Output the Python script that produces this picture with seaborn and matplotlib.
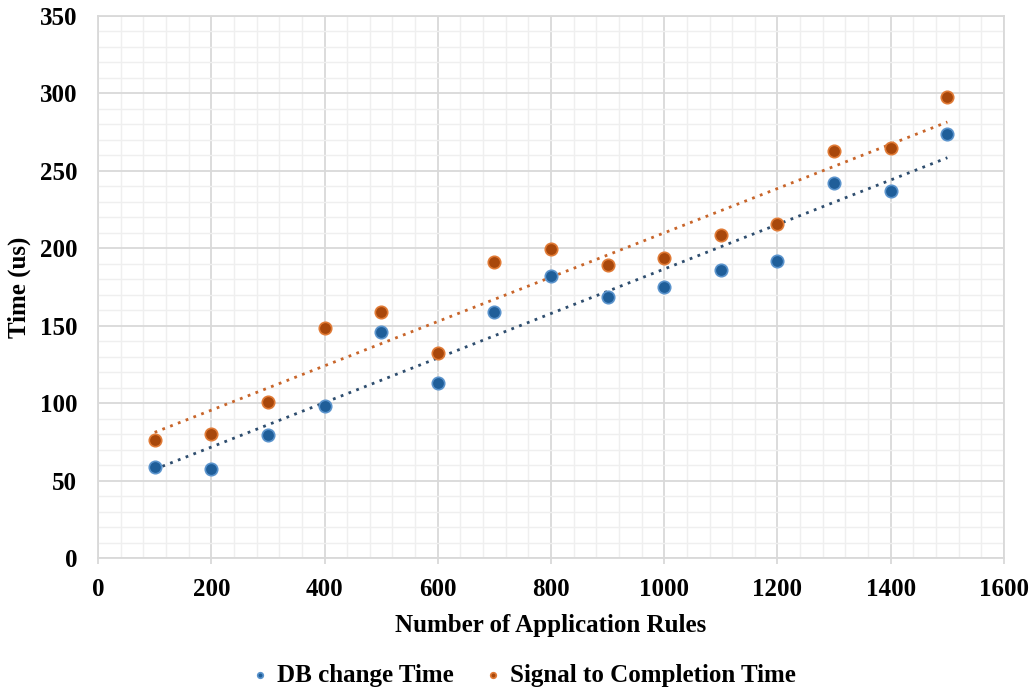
import numpy as np
import pandas as pd
import matplotlib
matplotlib.use("Agg")
import matplotlib.pyplot as plt
from matplotlib.ticker import MultipleLocator
import seaborn as sns

rules = [100, 200, 300, 400, 500, 600, 700, 800, 900, 1000, 1100, 1200, 1300, 1400, 1500]
db_change = [59, 57.5, 79.5, 98, 146, 113, 159, 182, 168.5, 175, 186, 192, 242, 237, 274]
signal_completion = [76, 80, 101, 148.5, 159, 132.5, 191, 199.5, 189.5, 194, 208.5, 216, 263, 264.5, 297.5]
series_names = ["DB change Time", "Signal to Completion Time"]

df = pd.DataFrame({
    "rules": rules * 2,
    "time": db_change + signal_completion,
    "series": [series_names[0]] * len(rules) + [series_names[1]] * len(rules),
})

sns.set_style("white")
plt.rcParams["font.family"] = ["Liberation Serif", "DejaVu Serif"]
plt.rcParams["text.color"] = "black"
plt.rcParams["axes.labelcolor"] = "black"
plt.rcParams["xtick.color"] = "black"
plt.rcParams["ytick.color"] = "black"

point_colors = {series_names[0]: "#1F5E99", series_names[1]: "#A8470B"}
edge_colors = {series_names[0]: "#5A93CC", series_names[1]: "#E07A35"}
trend_colors = {series_names[0]: "#2E4D6E", series_names[1]: "#C8652A"}

fig = plt.figure(figsize=(10.36, 6.89), dpi=100)
ax = fig.add_axes([0.0946, 0.19, 0.8745, 0.7868])

for name in series_names:
    sub = df[df["series"] == name]
    sns.regplot(data=sub, x="rules", y="time", ax=ax, scatter=False, ci=None,
                line_kws=dict(color=trend_colors[name], linestyle=(0, (1, 2)), linewidth=2.0))

for name in series_names:
    sub = df[df["series"] == name]
    sns.scatterplot(data=sub, x="rules", y="time", ax=ax, color=point_colors[name],
                    edgecolor=edge_colors[name], linewidth=1.2, s=80, label=name, zorder=3)

ax.set_xlim(0, 1600)
ax.set_ylim(0, 350)
ax.xaxis.set_major_locator(MultipleLocator(200))
ax.xaxis.set_minor_locator(MultipleLocator(40))
ax.yaxis.set_major_locator(MultipleLocator(50))
ax.yaxis.set_minor_locator(MultipleLocator(10))
ax.grid(which="major", color="#D9D9D9", linewidth=1.3)
ax.grid(which="minor", color="#EFEFEF", linewidth=1.0)
ax.set_axisbelow(True)
for sp in ax.spines.values():
    sp.set_color("#D9D9D9")
    sp.set_linewidth(1.3)
ax.tick_params(axis="both", which="minor", length=0)
ax.tick_params(axis="x", which="major", length=4.5, width=1.3, color="#D9D9D9",
               direction="out", bottom=True, labelsize=18, pad=10, labelcolor="black")
ax.tick_params(axis="y", which="major", length=0, labelsize=18, pad=15, labelcolor="black")
for lab in ax.get_xticklabels() + ax.get_yticklabels():
    lab.set_fontweight("bold")

ax.set_xlabel("Number of Application Rules", fontsize=18, fontweight="bold", labelpad=9)
ax.set_ylabel("Time (us)", fontsize=18, fontweight="bold", labelpad=6)

leg = ax.legend(loc="center", bbox_to_anchor=(0.469, -0.216), ncol=2, frameon=False,
                prop=dict(size=18, weight="bold"), markerscale=0.45,
                handlelength=0.8, handletextpad=0.25, columnspacing=1.2)

fig.savefig("out.png", dpi=100)
